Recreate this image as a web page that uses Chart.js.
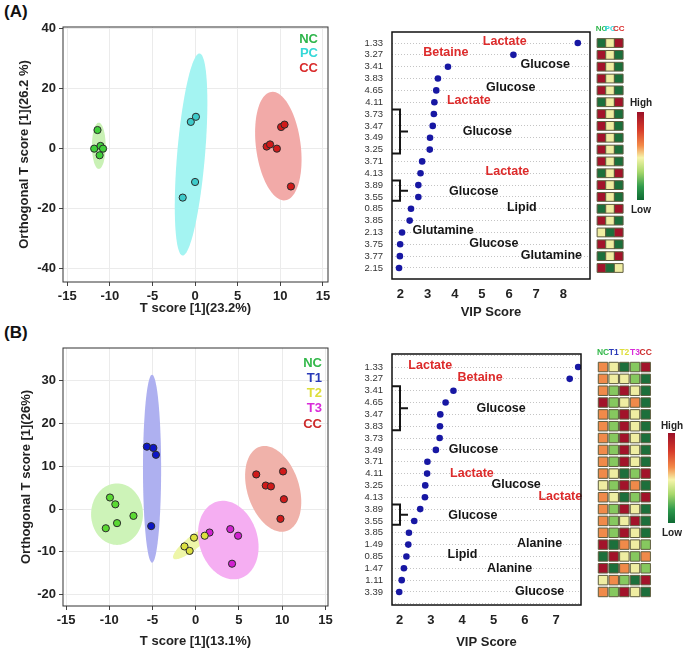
<!DOCTYPE html>
<html>
<head>
<meta charset="utf-8">
<script src="https://cdn.jsdelivr.net/npm/chart.js@4.4.1/dist/chart.umd.min.js"></script>
<style>
	html, body { margin: 0; padding: 0; background: #fff; overflow: hidden; }
	#fig { position: relative; width: 685px; height: 653px; font-family: 'Liberation Sans', Arial, sans-serif; }
	#fig canvas { position: absolute; }
	.tag { position: absolute; font-weight: bold; font-size: 17px; color: #111; }
	.bar {
		position: absolute;
		width: 7px;
		background: linear-gradient(to bottom, #9b1028, #d63a2a 20%, #f38a48 38%, #f6f4aa 52%, #a8d86c 68%, #2f9a4c 85%, #0f6a34);
	}
	.bar-lbl { position: absolute; font-size: 10px; font-weight: bold; color: #222; transform: translate(-50%, -50%); }
</style>
</head>
<body>
<div id="fig">
	<div class="tag" style="left:4px; top:2px;">(A)</div>
	<div class="tag" style="left:4px; top:323px;">(B)</div>

	<canvas id="scoreA" width="340" height="320" style="left:0; top:0;"></canvas>
	<canvas id="vipA" width="255" height="309" style="left:340px; top:15px;"></canvas>
	<canvas id="heatA" width="45" height="309" style="left:590px; top:15px;"></canvas>
	<div class="bar" style="left:637px; top:112px; height:88px;"></div>
	<div class="bar-lbl" style="left:641px; top:102px;">High</div>
	<div class="bar-lbl" style="left:641px; top:209px;">Low</div>

	<canvas id="scoreB" width="340" height="333" style="left:0; top:320px;"></canvas>
	<canvas id="vipB" width="250" height="318" style="left:340px; top:335px;"></canvas>
	<canvas id="heatB" width="70" height="318" style="left:590px; top:335px;"></canvas>
	<div class="bar" style="left:668px; top:433px; height:90px;"></div>
	<div class="bar-lbl" style="left:672px; top:425px;">High</div>
	<div class="bar-lbl" style="left:672px; top:532px;">Low</div>
</div>

<script>
// ---------- panel A : OPLS-DA scores ----------
const groupsA = ['NC', 'PC', 'CC'];
const tScoreA = [
	[-11.45, -11.84, -11.1, -10.8, -11.2],
	[-0.5, 0.1, 0.0, -1.45],
	[8.4, 8.8, 9.6, 10.1, 10.5, 11.25],
];
const orthoScoreA = [
	[6.2, 0.0, 0.9, 0.0, -2.2],
	[8.9, 10.6, -11.1, -16.3],
	[0.7, 1.4, 0.0, 7.2, 8.0, -12.6],
];
// confidence ellipses: centre [t, ortho] and the two half-axis vectors [at, ao, bt, bo]
const ellCentreA = [[-11.3, 0.95], [-0.47, -1.95], [9.77, 0.85]];
const ellAxesA = [[0, 7.7, 0.8, 0], [1.0, 33.65, 1.63, -0.39], [-0.82, 18.05, 2.6, 0.96]];

// ---------- panel A : VIP ----------
const ppmA = ['1.33', '3.27', '3.41', '3.83', '4.65', '4.11', '3.73', '3.47', '3.49', '3.25',
	'3.71', '4.13', '3.89', '3.55', '0.85', '3.85', '2.13', '3.75', '3.77', '2.15'];
const vipA = [8.53, 6.16, 3.75, 3.38, 3.32, 3.25, 3.23, 3.19, 3.09, 3.08,
	2.80, 2.74, 2.66, 2.66, 2.39, 2.34, 2.06, 1.99, 1.98, 1.95];
const noteTextA = ['Lactate', 'Betaine', 'Glucose', 'Glucose', 'Lactate', 'Glucose',
	'Lactate', 'Glucose', 'Lipid', 'Glutamine', 'Glucose', 'Glutamine'];
const noteVipA = [5.84, 3.67, 7.33, 6.06, 4.52, 5.2, 5.94, 4.7, 6.47, 3.57, 5.44, 7.56];
const noteRowA = [-0.14, 0.79, 1.83, 3.8, 4.85, 7.46, 10.85, 12.54, 13.86, 15.83, 16.9, 17.97];
const noteRedA = [1, 1, 0, 0, 1, 0, 1, 0, 0, 0, 0, 0];
const bracketRowsA = [[6, 9], [12, 13]];
// heat levels: 0 dark green .. 4 dark red
const heatA = [
	[0, 2, 4], [4, 2, 0], [4, 2, 0], [4, 2, 0], [4, 2, 0], [0, 2, 4], [4, 2, 0], [4, 2, 0], [4, 2, 0], [4, 2, 0],
	[4, 2, 0], [0, 2, 4], [4, 2, 0], [4, 2, 0], [0, 2, 4], [4, 2, 0], [2, 0, 4], [4, 2, 0], [0, 2, 4], [4, 0, 2],
];

// ---------- panel B : OPLS-DA scores ----------
const groupsB = ['NC', 'T1', 'T2', 'T3', 'CC'];
const tScoreB = [
	[-9.92, -9.3, -9.1, -7.2, -10.4],
	[-5.65, -4.9, -4.6, -5.15],
	[-1.3, -0.7, -0.2, 1.04],
	[1.6, 4.0, 4.9, 4.2],
	[7.0, 8.1, 8.7, 10.1, 10.2, 9.8],
];
const orthoScoreB = [
	[2.7, 1.1, -3.3, -1.6, -4.5],
	[14.6, 14.3, 12.7, -4.0],
	[-8.75, -9.8, -6.7, -6.25],
	[-5.5, -4.7, -6.25, -12.8],
	[8.1, 5.5, 5.3, 8.8, 2.3, -2.3],
];
const ellCentreB = [[-9.1, -1.2], [-5.05, 9.45], [-0.27, -7.85], [3.77, -7.27], [8.96, 4.72]];
const ellAxesB = [[0, 7.2, 3.0, 0], [0, 22, 1.05, 0], [2.31, 3.71, 0.48, -1.23], [-1.35, 8.98, 3.23, 1.99], [-1.54, 9.88, 2.86, 1.83]];

// ---------- panel B : VIP ----------
const ppmB = ['1.33', '3.27', '3.41', '4.65', '3.47', '3.83', '3.73', '3.49', '3.71', '4.11',
	'3.25', '4.13', '3.89', '3.55', '3.85', '1.49', '0.85', '1.47', '1.11', '3.39'];
const vipB = [7.70, 7.43, 3.72, 3.47, 3.30, 3.29, 3.28, 3.16, 2.89, 2.88,
	2.82, 2.81, 2.66, 2.47, 2.30, 2.28, 2.22, 2.14, 2.07, 1.99];
const noteTextB = ['Lactate', 'Betaine', 'Glucose', 'Glucose', 'Lactate', 'Glucose',
	'Lactate', 'Glucose', 'Alanine', 'Lipid', 'Alanine', 'Glucose'];
const noteVipB = [2.98, 4.57, 5.24, 4.36, 4.31, 5.72, 7.13, 4.34, 6.47, 4.01, 5.51, 6.47];
const noteRowB = [-0.14, 0.9, 3.51, 6.94, 8.99, 9.89, 10.96, 12.56, 14.94, 15.87, 16.99, 18.96];
const noteRedB = [1, 1, 0, 0, 1, 0, 1, 0, 0, 0, 0, 0];
const bracketRowsB = [[2, 5], [12, 13]];
const heatB = [
	[3, 2, 0, 1, 4], [3, 2, 2, 1, 0], [3, 1, 4, 2, 0], [4, 1, 2, 3, 0], [3, 1, 4, 2, 0],
	[3, 1, 4, 2, 0], [3, 1, 4, 2, 0], [3, 1, 4, 2, 0], [3, 1, 4, 2, 0], [3, 2, 0, 1, 4],
	[2, 1, 4, 3, 0], [3, 2, 0, 1, 4], [3, 1, 4, 2, 0], [3, 1, 2, 4, 0], [3, 1, 4, 2, 0],
	[4, 0, 3, 2, 1], [0, 4, 2, 1, 3], [4, 0, 3, 2, 1], [2, 3, 1, 0, 4], [3, 1, 4, 2, 0],
];

const heatPalette = ['#1c6f3b', '#86c85f', '#efeda2', '#f08a4a', '#a2132a'];

Chart.defaults.font.family = "'Liberation Sans', Arial, sans-serif";

const framePlugin = {
	id: 'frame',
	afterDraw(chart, args, opts) {
		const { ctx, chartArea: a } = chart;
		ctx.save();
		ctx.strokeStyle = opts.color || '#222';
		ctx.lineWidth = opts.width || 1;
		ctx.strokeRect(a.left, a.top, a.right - a.left, a.bottom - a.top);
		ctx.restore();
	},
};

const ellipsePlugin = {
	id: 'ellipses',
	beforeDatasetsDraw(chart, args, opts) {
		const { ctx, scales: { x, y } } = chart;
		ctx.save();
		(opts.items || []).forEach((e) => {
			ctx.beginPath();
			for (let k = 0; k <= 96; k++) {
				const t = (k / 96) * Math.PI * 2;
				const px = x.getPixelForValue(e.cx + Math.cos(t) * e.ax + Math.sin(t) * e.bx);
				const py = y.getPixelForValue(e.cy + Math.cos(t) * e.ay + Math.sin(t) * e.by);
				if (k === 0) ctx.moveTo(px, py);
				else ctx.lineTo(px, py);
			}
			ctx.closePath();
			ctx.fillStyle = e.color;
			ctx.fill();
		});
		ctx.restore();
	},
};

const groupLegendPlugin = {
	id: 'groupLegend',
	afterDraw(chart, args, opts) {
		const { ctx, chartArea: a } = chart;
		ctx.save();
		ctx.font = "bold 13px 'Liberation Sans', Arial, sans-serif";
		ctx.textAlign = 'right';
		ctx.textBaseline = 'middle';
		opts.names.forEach((name, i) => {
			ctx.fillStyle = opts.colors[i];
			ctx.fillText(name, a.right - opts.right, a.top + opts.top + i * opts.step);
		});
		ctx.restore();
	},
};

const notesPlugin = {
	id: 'notes',
	afterDatasetsDraw(chart, args, opts) {
		const { ctx, chartArea: a, scales: { x, y } } = chart;
		ctx.save();
		ctx.font = "bold 12.5px 'Liberation Sans', Arial, sans-serif";
		ctx.textAlign = 'center';
		ctx.textBaseline = 'middle';
		opts.text.forEach((t, i) => {
			ctx.fillStyle = opts.red[i] ? '#dd2b2b' : '#151515';
			ctx.fillText(t, x.getPixelForValue(opts.vip[i]), y.getPixelForValue(opts.row[i]));
		});
		// brackets grouping neighbouring bins
		ctx.strokeStyle = '#151515';
		ctx.lineWidth = 2;
		opts.brackets.forEach(([r0, r1]) => {
			const top = y.getPixelForValue(r0 - 0.38);
			const bot = y.getPixelForValue(r1 + 0.33);
			const xv = a.left + 8;
			ctx.beginPath();
			ctx.moveTo(a.left, top);
			ctx.lineTo(xv, top);
			ctx.lineTo(xv, bot);
			ctx.lineTo(a.left, bot);
			ctx.moveTo(xv, (top + bot) / 2);
			ctx.lineTo(xv + 8, (top + bot) / 2);
			ctx.stroke();
		});
		ctx.restore();
	},
};

const headerPlugin = {
	id: 'heatHeader',
	afterDraw(chart, args, opts) {
		const { ctx, scales: { x, y } } = chart;
		ctx.save();
		ctx.font = `bold ${opts.size}px 'Liberation Sans', Arial, sans-serif`;
		ctx.textAlign = 'center';
		ctx.textBaseline = 'middle';
		opts.names.forEach((name, c) => {
			ctx.fillStyle = opts.colors[c];
			ctx.fillText(name, x.getPixelForValue(c), y.getPixelForValue(0) - 14);
		});
		ctx.restore();
	},
};

const tickFont = { size: 13, weight: 'bold' };
const titleFont = { size: 13, weight: 'bold' };

const scoreChart = (cfg) => {
	const datasets = cfg.names.map((name, g) => ({
		label: name,
		data: cfg.tx[g].map((x, i) => ({ x, y: cfg.ty[g][i] })),
		backgroundColor: cfg.pointColors[g],
		borderColor: '#2b2b2b',
		borderWidth: 1,
		pointRadius: 3.6,
	}));
	const ellipses = cfg.names.map((name, g) => ({
		cx: cfg.centres[g][0],
		cy: cfg.centres[g][1],
		ax: cfg.axes[g][0],
		ay: cfg.axes[g][1],
		bx: cfg.axes[g][2],
		by: cfg.axes[g][3],
		color: cfg.ellColors[g],
	}));
	return new Chart(document.getElementById(cfg.id), {
		type: 'scatter',
		data: { datasets },
		options: {
			responsive: false,
			animation: false,
			events: [],
			layout: { padding: cfg.padding },
			plugins: {
				legend: { display: false },
				tooltip: { enabled: false },
				ellipses: { items: ellipses },
				groupLegend: { names: cfg.names, colors: cfg.legendColors, right: cfg.legendRight, top: cfg.legendTop, step: cfg.legendStep },
				frame: { color: '#333', width: 1 },
			},
			scales: {
				x: {
					min: cfg.xRange[0],
					max: cfg.xRange[1],
					ticks: { stepSize: 5, includeBounds: false, font: tickFont, color: '#222', padding: 3 },
					grid: { color: '#ebebeb', tickColor: '#444', tickLength: 4 },
					border: { display: false },
					title: { display: true, text: cfg.xTitle, font: titleFont, color: '#222', padding: { top: 4, bottom: 4 } },
					afterFit: (s) => { s.height = cfg.xHeight; },
				},
				y: {
					min: cfg.yRange[0],
					max: cfg.yRange[1],
					ticks: { stepSize: cfg.yStep, includeBounds: false, font: tickFont, color: '#222', padding: 3 },
					grid: { color: '#ebebeb', tickColor: '#444', tickLength: 4 },
					border: { display: false },
					title: { display: true, text: cfg.yTitle, font: titleFont, color: '#222', padding: { top: 4, bottom: 4 } },
					afterFit: (s) => { s.width = cfg.yWidth; },
				},
			},
		},
		plugins: [ellipsePlugin, groupLegendPlugin, framePlugin],
	});
};

const vipChart = (cfg) => new Chart(document.getElementById(cfg.id), {
	type: 'scatter',
	data: {
		datasets: [{
			data: cfg.vip.map((v, i) => ({ x: v, y: i })),
			backgroundColor: '#1717a3',
			borderWidth: 0,
			pointRadius: 3.3,
		}],
	},
	options: {
		responsive: false,
		animation: false,
		events: [],
		layout: { padding: cfg.padding },
		plugins: {
			legend: { display: false },
			tooltip: { enabled: false },
			notes: cfg.notes,
			frame: { color: '#111', width: 1.5 },
		},
		scales: {
			x: {
				min: cfg.xRange[0],
				max: cfg.xRange[1],
				ticks: { stepSize: 1, includeBounds: false, font: tickFont, color: '#222', padding: 8 },
				grid: { display: false, drawTicks: false },
				border: { display: false },
				title: { display: true, text: 'VIP Score', font: titleFont, color: '#222', padding: { top: 4, bottom: cfg.titlePad } },
				afterFit: (s) => { s.height = cfg.xHeight; },
			},
			y: {
				min: cfg.yRange[0],
				max: cfg.yRange[1],
				reverse: true,
				ticks: {
					stepSize: 1,
					includeBounds: false,
					autoSkip: false,
					font: { size: 9.5, lineHeight: 1 },
					color: '#333',
					padding: 9,
					callback: (v) => cfg.ppm[v] ?? '',
				},
				grid: { color: '#c4c4c4', drawTicks: false },
				border: { display: false, dash: [1, 2] },
				afterFit: (s) => { s.width = cfg.yWidth; },
			},
		},
	},
	plugins: [notesPlugin, framePlugin],
});

const heatChart = (cfg) => {
	const data = [];
	const colors = [];
	cfg.levels.forEach((row, r) => row.forEach((lv, c) => {
		data.push({ x: c, y: r });
		colors.push(heatPalette[lv]);
	}));
	return new Chart(document.getElementById(cfg.id), {
		type: 'scatter',
		data: {
			datasets: [{
				data,
				backgroundColor: colors,
				borderColor: '#5e5c3e',
				borderWidth: 1,
				pointStyle: 'rect',
				pointRadius: cfg.radius,
				clip: false,
			}],
		},
		options: {
			responsive: false,
			animation: false,
			events: [],
			layout: { padding: cfg.padding },
			plugins: {
				legend: { display: false },
				tooltip: { enabled: false },
				heatHeader: { names: cfg.names, colors: cfg.colors, size: cfg.fontSize },
			},
			scales: {
				x: { display: false, min: -0.5, max: cfg.names.length - 0.5 },
				y: { display: false, min: cfg.yRange[0], max: cfg.yRange[1], reverse: true },
			},
		},
		plugins: [headerPlugin],
	});
};

scoreChart({
	id: 'scoreA',
	names: groupsA,
	tx: tScoreA,
	ty: orthoScoreA,
	centres: ellCentreA,
	axes: ellAxesA,
	pointColors: ['#40d03a', '#3dcaca', '#d01a1a'],
	ellColors: ['#c9f1b5', '#a4f4f2', '#f2aaa8'],
	legendColors: ['#2eb54b', '#35d8d8', '#d92b2b'],
	legendRight: 10,
	legendTop: 12,
	legendStep: 14.5,
	xRange: [-15.5, 15.6],
	yRange: [-44.4, 40.5],
	yStep: 20,
	xTitle: 'T score [1](23.2%)',
	yTitle: 'Orthogonal T score [1](26.2 %)',
	padding: { top: 27, right: 12, left: 13, bottom: 0 },
	yWidth: 50,
	xHeight: 38,
});

scoreChart({
	id: 'scoreB',
	names: groupsB,
	tx: tScoreB,
	ty: orthoScoreB,
	centres: ellCentreB,
	axes: ellAxesB,
	pointColors: ['#5ad932', '#0d16c6', '#dce03f', '#d021d0', '#d01a1a'],
	ellColors: ['#cdf3b8', '#aeb0f0', '#eef6a8', '#f5aef2', '#f0b2aa'],
	legendColors: ['#33b84a', '#2a3ab8', '#dede3a', '#d92bd9', '#cc2a2a'],
	legendRight: 6,
	legendTop: 15,
	legendStep: 15.3,
	xRange: [-15.35, 15.3],
	yRange: [-22.7, 37.7],
	yStep: 10,
	xTitle: 'T score [1](13.1%)',
	yTitle: 'Orthogonal T score [1](26%)',
	padding: { top: 28, right: 12, left: 15, bottom: 0 },
	yWidth: 48,
	xHeight: 47,
});

const vipRangeA = [-0.93, 19.93];
const vipRangeB = [-1.1, 20.1];

vipChart({
	id: 'vipA',
	ppm: ppmA,
	vip: vipA,
	xRange: [1.69, 8.98],
	yRange: vipRangeA,
	padding: { top: 17, right: 5, left: 0, bottom: 0 },
	yWidth: 52,
	xHeight: 45,
	titlePad: 4,
	notes: { text: noteTextA, vip: noteVipA, row: noteRowA, red: noteRedA, brackets: bracketRowsA },
});

vipChart({
	id: 'vipB',
	ppm: ppmB,
	vip: vipB,
	xRange: [1.76, 7.79],
	yRange: vipRangeB,
	padding: { top: 19, right: 9, left: 0, bottom: 0 },
	yWidth: 52,
	xHeight: 48,
	titlePad: 3,
	notes: { text: noteTextB, vip: noteVipB, row: noteRowB, red: noteRedB, brackets: bracketRowsB },
});

heatChart({
	id: 'heatA',
	names: groupsA,
	colors: ['#2eb54b', '#35d8d8', '#d92b2b'],
	levels: heatA,
	yRange: vipRangeA,
	radius: 6.2,
	fontSize: 8,
	padding: { top: 17, bottom: 45, left: 2, right: 12 },
});

heatChart({
	id: 'heatB',
	names: groupsB,
	colors: ['#33b84a', '#2a3ab8', '#dede3a', '#d92bd9', '#cc2a2a'],
	levels: heatB,
	yRange: vipRangeB,
	radius: 6.7,
	fontSize: 8.5,
	padding: { top: 19, bottom: 48, left: 4, right: 9 },
});
</script>
</body>
</html>
